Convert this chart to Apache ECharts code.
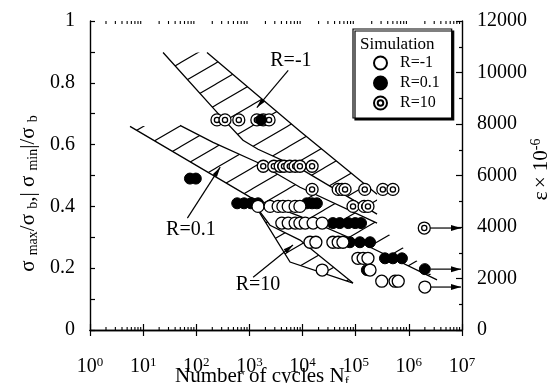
<!DOCTYPE html>
<html>
<head>
<meta charset="utf-8">
<script src="https://cdn.jsdelivr.net/npm/echarts@6/dist/echarts.min.js"></script>
<style>
html, body { margin: 0; padding: 0; background: #fff; }
#chart { width: 558px; height: 383px; }
</style>
</head>
<body>
<div id="chart"></div>
<script>
// simulated fatigue points: cycles to failure N_f and stress ratio sigma/sigma_b
const rm1N = [1450, 2450, 3470, 4270, 5370, 7240, 8910,
  4070, 5370, 7240, 8910, 11200, 15800, 23400,
  13800, 17800, 37200, 46800, 57500,
  110000, 138000, 170000,
  23400, 186000,
  309000, 550000, 631000,
  2000000];
const rm1S = [0.40, 0.40, 0.40, 0.40, 0.40, 0.40, 0.40,
  0.346, 0.346, 0.346, 0.346, 0.346, 0.346, 0.346,
  0.284, 0.284, 0.284, 0.284, 0.284,
  0.232, 0.232, 0.232,
  0.194, 0.194,
  0.158, 0.158, 0.158,
  0.139];

const r01N = [76, 98, 1660, 589, 794, 1070, 1450, 12000, 15100, 18600,
  37200, 50100, 72400, 97700, 126000,
  77600, 120000, 186000,
  355000, 501000, 741000,
  162000, 2000000];
const r01S = [0.49, 0.49, 0.68, 0.41, 0.41, 0.41, 0.41, 0.41, 0.41, 0.41,
  0.346, 0.346, 0.346, 0.346, 0.346,
  0.284, 0.284, 0.284,
  0.232, 0.232, 0.232,
  0.194, 0.197];

const r10N = [245, 347, 631, 1380, 1820, 2340,
  1820, 2880, 3800, 4470, 5750, 7240, 8910, 15100,
  15100, 46800, 55000, 63000, 148000, 324000, 501000,
  89000, 144000, 170000,
  1950000];
const r10S = [0.68, 0.68, 0.68, 0.68, 0.68, 0.68,
  0.53, 0.53, 0.53, 0.53, 0.53, 0.53, 0.53, 0.53,
  0.455, 0.455, 0.455, 0.455, 0.455, 0.455, 0.455,
  0.40, 0.40, 0.40,
  0.33];

// run-outs (arrow to the right axis)
const runoutN = [1950000, 2000000, 2000000];
const runoutS = [0.33, 0.197, 0.139];

// experimental scatter bands [N, sigma ratio]
const bandAUpper = [[159, 0.898], [8950, 0.643], [252000, 0.439]];
const bandALower = [[23.7, 0.898], [256, 0.701], [757, 0.614], [1450, 0.585], [8950, 0.523], [252000, 0.375]];
const bandBUpper = [[49.4, 0.662], [207, 0.607], [1390, 0.543], [8950, 0.462], [252000, 0.346]];
const bandBLower = [[5.66, 0.659], [1030, 0.430], [8950, 0.368], [120500, 0.284], [3390000, 0.162]];
const bandCUpper = [[1270, 0.404], [2440, 0.339], [8950, 0.291], [88900, 0.152]];
const bandCLower = [[1270, 0.404], [5810, 0.220], [88900, 0.152]];

// band labels: text position, arrow start, arrow tip
const noteText = ['R=-1', 'R=0.1', 'R=10'];
const noteAt = [[6030, 0.872], [79, 0.326], [1450, 0.145]];
const noteFrom = [[5370, 0.84], [68, 0.362], [1175, 0.171]];
const noteTo = [[1380, 0.72], [282, 0.527], [6610, 0.275]];

const serif = '"Liberation Serif", "DejaVu Serif", serif';

function zip(a, b) {
  return a.map((v, i) => [v, b[i]]);
}

// hatch tile: lines rising to the right at about 30 degrees
function hatchFill() {
  const w = 36, h = 21;
  const c = document.createElement('canvas');
  c.width = w; c.height = h;
  const g = c.getContext('2d');
  g.strokeStyle = '#000';
  g.lineWidth = 1.1;
  g.beginPath();
  for (let dx = -w; dx <= w; dx += w) {
    for (let dy = -h; dy <= h; dy += h) {
      g.moveTo(dx, h + dy);
      g.lineTo(w + dx, dy);
    }
  }
  g.stroke();
  return {image: c, repeat: 'repeat'};
}
const hatch = hatchFill();

function arrowHead(p, q, len, half) {
  const dx = q[0] - p[0], dy = q[1] - p[1];
  const d = Math.hypot(dx, dy), ux = dx / d, uy = dy / d;
  const bx = q[0] - ux * len, by = q[1] - uy * len;
  return {
    type: 'polygon',
    shape: {points: [q, [bx - uy * half, by + ux * half], [bx + uy * half, by - ux * half]]},
    style: {fill: '#000'}
  };
}

const minorCycles = [];
for (let k = 0; k < 7; k++) {
  for (let m = 2; m < 10; m++) minorCycles.push(m * Math.pow(10, k));
}

const ringPath = 'path://M12,6A6,6,0,1,1,0,6A6,6,0,1,1,12,6ZM8.6,6A2.6,2.6,0,1,1,3.4,6A2.6,2.6,0,1,1,8.6,6Z';

const myChart = echarts.init(document.getElementById('chart'));

const xAxisBase = {
  type: 'log',
  logBase: 10,
  min: 1,
  max: 10000000,
  interval: 1,
  axisLine: {lineStyle: {color: '#000', width: 1.4}},
  axisTick: {inside: true, length: 6, lineStyle: {color: '#000', width: 1.2}},
  splitLine: {show: false}
};

const option = {
  animation: false,
  backgroundColor: '#fff',
  textStyle: {fontFamily: serif, color: '#000'},
  grid: {left: 90, right: 96, top: 21, bottom: 53, containLabel: false, outerBoundsMode: 'none'},
  title: {
    text: 'Simulation',
    left: 360,
    top: 36,
    padding: 0,
    textStyle: {fontFamily: serif, fontSize: 17, fontWeight: 'normal', color: '#000'}
  },
  legend: {
    data: ['R=-1', 'R=0.1', 'R=10'],
    orient: 'vertical',
    left: 353,
    top: 29,
    padding: [26, 12, 7, 20],
    itemWidth: 13,
    itemHeight: 13,
    itemGap: 4,
    selectedMode: false,
    backgroundColor: '#fff',
    borderColor: '#000',
    borderWidth: 1.2,
    borderRadius: 0,
    shadowColor: '#000',
    shadowBlur: 0,
    shadowOffsetX: 2,
    shadowOffsetY: 2,
    textStyle: {fontFamily: serif, fontSize: 16, color: '#000', padding: [0, 0, 0, 8]}
  },
  xAxis: [
    Object.assign({}, xAxisBase, {
      position: 'bottom',
      axisLabel: {
        margin: 26,
        formatter: (v) => '{b|10}{s|' + Math.round(Math.log10(v)) + '}',
        rich: {
          b: {fontFamily: serif, fontSize: 20, lineHeight: 22, color: '#000'},
          s: {fontFamily: serif, fontSize: 13, verticalAlign: 'top', color: '#000'}
        }
      },
      name: '{t|Number of cycles N}{u|f}',
      nameLocation: 'middle',
      nameGap: 34,
      nameMoveOverlap: false,
      nameTextStyle: {
        padding: [0, 28, 0, 0],
        rich: {
          t: {fontFamily: serif, fontSize: 21, lineHeight: 24, color: '#000'},
          u: {fontFamily: serif, fontSize: 13, verticalAlign: 'bottom', color: '#000'}
        }
      }
    }),
    Object.assign({}, xAxisBase, {position: 'top', axisLabel: {show: false}})
  ],
  yAxis: [
    {
      type: 'value',
      min: 0,
      max: 1,
      interval: 0.2,
      position: 'left',
      axisLine: {lineStyle: {color: '#000', width: 1.4}},
      axisTick: {inside: true, length: 5, lineStyle: {color: '#000', width: 1.2}},
      minorTick: {show: true, splitNumber: 2, length: 5, lineStyle: {color: '#000', width: 1.2}},
      splitLine: {show: false},
      axisLabel: {margin: 15, fontFamily: serif, fontSize: 20, color: '#000'},
      name: '{s|σ }{u|max}{s|/σ }{u|b}{s|,| σ }{u|min}{s||/σ }{u|b}',
      nameLocation: 'middle',
      nameRotate: 90,
      nameGap: 50,
      nameMoveOverlap: false,
      nameTextStyle: {
        padding: [0, 36, 0, 0],
        rich: {
          s: {fontFamily: serif, fontSize: 21, lineHeight: 24, color: '#000'},
          u: {fontFamily: serif, fontSize: 14, verticalAlign: 'bottom', color: '#000'}
        }
      }
    },
    {
      type: 'value',
      min: 0,
      max: 12000,
      interval: 2000,
      position: 'right',
      axisLine: {lineStyle: {color: '#000', width: 1.4}},
      axisTick: {inside: true, length: 6, lineStyle: {color: '#000', width: 1.2}},
      minorTick: {show: true, splitNumber: 2, length: 3, lineStyle: {color: '#000', width: 1.2}},
      splitLine: {show: false},
      axisLabel: {margin: 15, fontFamily: serif, fontSize: 20, color: '#000', formatter: (v) => String(v)},
      name: '{e|ε} {s|× 10}{p|-6}',
      nameLocation: 'middle',
      nameRotate: 90,
      nameGap: 67,
      nameMoveOverlap: false,
      nameTextStyle: {
        padding: [0, 0, 0, 12],
        rich: {
          e: {fontFamily: serif, fontSize: 22, lineHeight: 24, color: '#000'},
          s: {fontFamily: serif, fontSize: 21, lineHeight: 24, color: '#000'},
          p: {fontFamily: serif, fontSize: 14, verticalAlign: 'top', color: '#000'}
        }
      }
    }
  ],
  series: [
    {
      type: 'custom',
      name: 'bands',
      z: 1,
      silent: true,
      data: [[1, 0]],
      renderItem: (params, api) => {
        const pts = (arr) => arr.map((p) => api.coord(p));
        const children = [];
        [[bandAUpper, bandALower], [bandBUpper, bandBLower], [bandCUpper, bandCLower]].forEach((b) => {
          const up = pts(b[0]), lo = pts(b[1]);
          children.push({type: 'polygon', shape: {points: up.concat(lo.slice().reverse())}, style: {fill: hatch, stroke: null}});
          children.push({type: 'polyline', shape: {points: up}, style: {stroke: '#000', lineWidth: 1.3, fill: null}});
          children.push({type: 'polyline', shape: {points: lo}, style: {stroke: '#000', lineWidth: 1.3, fill: null}});
        });
        return {type: 'group', children: children};
      }
    },
    {
      type: 'custom',
      name: 'minor ticks',
      z: 1,
      silent: true,
      data: minorCycles.map((n) => [n, 0]),
      renderItem: (params, api) => {
        const n = api.value(0);
        const b = api.coord([n, 0]), t = api.coord([n, 1]);
        return {
          type: 'group',
          children: [
            {type: 'line', shape: {x1: b[0], y1: b[1], x2: b[0], y2: b[1] - 3}, style: {stroke: '#000', lineWidth: 1.1}},
            {type: 'line', shape: {x1: t[0], y1: t[1], x2: t[0], y2: t[1] + 3}, style: {stroke: '#000', lineWidth: 1.1}}
          ]
        };
      }
    },
    {
      type: 'custom',
      name: 'notes',
      z: 2,
      silent: true,
      data: [[1, 0]],
      renderItem: (params, api) => {
        const children = [];
        noteText.forEach((t, i) => {
          const at = api.coord(noteAt[i]), p = api.coord(noteFrom[i]), q = api.coord(noteTo[i]);
          children.push({type: 'text', x: at[0], y: at[1],
            style: {text: t, font: '20px ' + serif, fill: '#000', align: 'center', verticalAlign: 'middle'}});
          children.push({type: 'line', shape: {x1: p[0], y1: p[1], x2: q[0], y2: q[1]}, style: {stroke: '#000', lineWidth: 1.2}});
          children.push(arrowHead(p, q, 10, 2.5));
        });
        runoutN.forEach((n, i) => {
          const p = api.coord([n, runoutS[i]]), q = api.coord([10000000, runoutS[i]]);
          const s = [p[0] + 6, p[1]], e = [q[0] - 1, q[1]];
          children.push({type: 'line', shape: {x1: s[0], y1: s[1], x2: e[0], y2: e[1]}, style: {stroke: '#000', lineWidth: 1.2}});
          children.push(arrowHead(s, e, 10, 3));
        });
        return {type: 'group', children: children};
      }
    },
    {
      type: 'scatter',
      name: 'R=10',
      z: 3,
      symbol: ringPath,
      symbolSize: 12,
      itemStyle: {color: '#fff', borderColor: '#000', borderWidth: 1.3, opacity: 1},
      data: zip(r10N, r10S)
    },
    {
      type: 'scatter',
      name: 'R=0.1',
      z: 3,
      symbol: 'circle',
      symbolSize: 11,
      itemStyle: {color: '#000', borderColor: '#000', borderWidth: 1, opacity: 1},
      data: zip(r01N, r01S)
    },
    {
      type: 'scatter',
      name: 'R=-1',
      z: 3,
      symbol: 'circle',
      symbolSize: 12,
      itemStyle: {color: '#fff', borderColor: '#000', borderWidth: 1.3, opacity: 1},
      data: zip(rm1N, rm1S)
    }
  ]
};

myChart.setOption(option);
</script>
</body>
</html>
